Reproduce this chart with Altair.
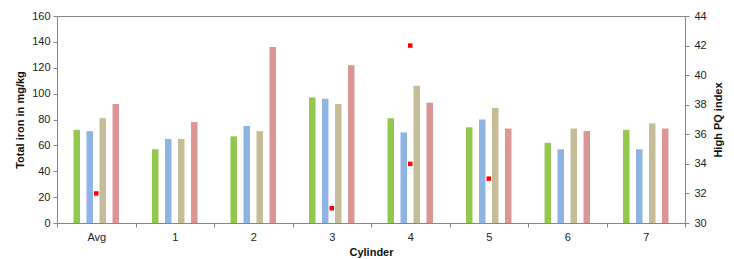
import altair as alt
import pandas as pd

categories = ["Avg", "1", "2", "3", "4", "5", "6", "7"]
series_names = ["Series 1", "Series 2", "Series 3", "Series 4"]
s1 = [72, 57, 67, 97, 81, 74, 62, 72]
s2 = [71, 65, 75, 96, 70, 80, 57, 57]
s3 = [81, 65, 71, 92, 106, 89, 73, 77]
s4 = [92, 78, 136, 122, 93, 73, 71, 73]
colors = ["#92C84F", "#8EB4E3", "#C4BD97", "#D99694"]

pq_cats = ["Avg", "3", "4", "4", "5"]
pq_vals = [32, 31, 42, 34, 33]

rows = []
for name, vals in zip(series_names, [s1, s2, s3, s4]):
    for c, v in zip(categories, vals):
        rows.append({"cat": c, "series": name, "value": v})
bars_df = pd.DataFrame(rows)
pq_df = pd.DataFrame({"cat": pq_cats, "pq": pq_vals})

FONT = "Liberation Sans"
GREY = "#868686"

x_enc = alt.X(
    "cat:N",
    sort=categories,
    scale=alt.Scale(domain=categories, paddingInner=0, paddingOuter=0),
    axis=alt.Axis(
        title="Cylinder",
        labelAngle=0,
        tickBand="extent",
        domainColor=GREY,
        tickColor=GREY,
        tickSize=4,
        labelPadding=4,
        titlePadding=4,
    ),
)

bars = alt.Chart(bars_df).mark_bar().encode(
    x=x_enc,
    xOffset=alt.XOffset(
        "series:N",
        sort=series_names,
        scale=alt.Scale(domain=series_names, range=[16.5, 62],
                        paddingInner=0.5, paddingOuter=0),
    ),
    y=alt.Y(
        "value:Q",
        scale=alt.Scale(domain=[0, 160], nice=False),
        axis=alt.Axis(
            title="Total iron in mg/kg",
            values=list(range(0, 161, 20)),
            grid=False,
            domainColor=GREY,
            tickColor=GREY,
            tickSize=4,
            labelPadding=3,
            titlePadding=6,
        ),
    ),
    color=alt.Color(
        "series:N",
        scale=alt.Scale(domain=series_names, range=colors),
        legend=None,
    ),
)

squares = alt.Chart(pq_df).mark_square(size=20, color="#FF0000", opacity=1).encode(
    x=alt.X("cat:N", sort=categories),
    y=alt.Y(
        "pq:Q",
        scale=alt.Scale(domain=[30, 44], nice=False, zero=False),
        axis=alt.Axis(
            title="High PQ index",
            orient="right",
            values=list(range(30, 45, 2)),
            grid=False,
            domainColor=GREY,
            tickColor=GREY,
            tickSize=4,
            labelPadding=5,
            titlePadding=6,
            titleAngle=270,
            titleBaseline="top",
        ),
    ),
)

chart = (
    alt.layer(bars, squares)
    .resolve_scale(y="independent")
    .properties(
        width=628,
        height=207,
        autosize=alt.AutoSizeParams(type="none"),
        padding={"left": 49, "top": 8, "right": 41, "bottom": 35},
    )
    .configure_view(stroke=GREY, strokeWidth=1)
    .configure_axis(
        labelFont=FONT,
        titleFont=FONT,
        labelFontSize=11,
        titleFontSize=11,
        labelColor="#222222",
        titleColor="#111111",
        titleFontWeight="bold",
    )
)

chart.save("out.html", embed_options={"renderer": "svg", "actions": False})
